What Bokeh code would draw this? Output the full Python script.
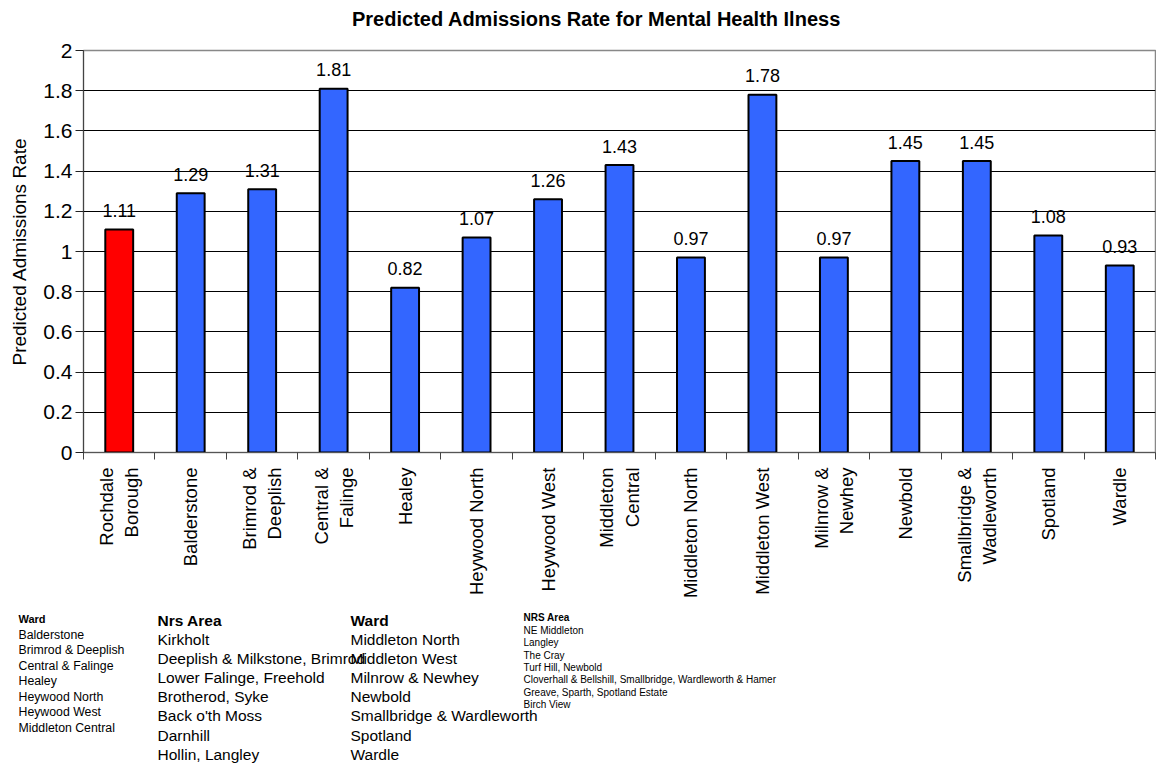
import math
from bokeh.plotting import figure
from bokeh.layouts import column
from bokeh.models import ColumnDataSource, FixedTicker, Range1d
from bokeh.core.properties import value
from bokeh.embed import file_html
from bokeh.resources import INLINE

# ---------------- data ----------------
categories = ["Rochdale\nBorough", "Balderstone", "Brimrod &\nDeeplish", "Central &\nFalinge",
              "Healey", "Heywood North", "Heywood West", "Middleton\nCentral", "Middleton North",
              "Middleton West", "Milnrow &\nNewhey", "Newbold", "Smallbridge &\nWadleworth",
              "Spotland", "Wardle"]
rates = [1.11, 1.29, 1.31, 1.81, 0.82, 1.07, 1.26, 1.43, 0.97, 1.78, 0.97, 1.45, 1.45, 1.08, 0.93]
is_borough = [True] + [False] * 14
y_ticks = [0.0, 0.2, 0.4, 0.6, 0.8, 1.0, 1.2, 1.4, 1.6, 1.8, 2.0]
y_tick_labels = ["0", "0.2", "0.4", "0.6", "0.8", "1", "1.2", "1.4", "1.6", "1.8", "2"]

title_text = "Predicted Admissions Rate for Mental Health Ilness"
y_label = "Predicted Admissions Rate"

ward_header_1 = "Ward"
ward_list_1 = ["Balderstone", "Brimrod & Deeplish", "Central & Falinge", "Healey",
               "Heywood North", "Heywood West", "Middleton Central"]
nrs_header_1 = "Nrs Area"
nrs_list_1 = ["Kirkholt", "Deeplish & Milkstone, Brimrod", "Lower Falinge, Freehold",
              "Brotherod, Syke", "Back o'th Moss", "Darnhill", "Hollin, Langley"]
ward_header_2 = "Ward"
ward_list_2 = ["Middleton North", "Middleton West", "Milnrow & Newhey", "Newbold",
               "Smallbridge & Wardleworth", "Spotland", "Wardle"]
nrs_header_2 = "NRS Area"
nrs_list_2 = ["NE Middleton", "Langley", "The Cray", "Turf Hill, Newbold",
              "Cloverhall & Bellshill, Smallbridge, Wardleworth & Hamer",
              "Greave, Sparth, Spotland Estate", "Birch View"]

FONT = value("Liberation Sans")
RED = "#FF0000"
BLUE = "#3366FF"

W = 1156
H0 = 36     # title strip
H1 = 568    # chart
H2 = 163    # notes


def strip(height, top):
    f = figure(width=W, height=height, x_range=Range1d(0, W), y_range=Range1d(top + height, top),
               output_backend="svg", toolbar_location=None,
               x_axis_location=None, y_axis_location=None,
               min_border_left=0, min_border_right=0, min_border_top=0, min_border_bottom=0)
    f.frame_align = False
    f.grid.visible = False
    f.outline_line_color = None
    return f


# ---------------- title strip ----------------
p0 = strip(H0, 0)
p0.text(x=[596], y=[18], text=[title_text], text_font=FONT, text_font_size="20px",
        text_font_style="bold", text_align="center", text_baseline="middle",
        text_color="black")

# ---------------- main chart ----------------
n = len(categories)
centers = [i + 0.5 for i in range(n)]
boundaries = [float(i) for i in range(n + 1)]

src = ColumnDataSource(dict(
    x=centers,
    top=rates,
    color=[RED if b else BLUE for b in is_borough],
    label=[f"{v:.2f}" for v in rates],
))

p = figure(width=W, height=H1, x_range=Range1d(0, n), y_range=Range1d(0, 2),
           output_backend="svg", toolbar_location=None,
           min_border_left=83, min_border_right=1, min_border_top=14, min_border_bottom=152)
p.frame_align = False

p.vbar(x="x", top="top", width=0.39, bottom=0, fill_color="color",
       line_color="black", line_width=2, source=src)
p.text(x="x", y="top", text="label", source=src, text_font=FONT,
       text_font_size="18px", text_align="center", text_baseline="alphabetic",
       y_offset=-19, text_color="black")

# x axis
xa = p.xaxis[0]
xa.ticker = FixedTicker(ticks=centers, minor_ticks=boundaries)
xa.major_label_overrides = {c: lab for c, lab in zip(centers, categories)}
xa.major_label_orientation = math.pi / 2
xa.major_label_text_font = "Liberation Sans"
xa.major_label_text_font_size = "18.5px"
xa.major_label_text_color = "black"
xa.major_tick_out = 0
xa.major_tick_in = 0
xa.minor_tick_out = 7
xa.minor_tick_in = 0
xa.minor_tick_line_color = "#444444"
xa.axis_line_color = "#555555"
xa.major_label_standoff = 8

# y axis
ya = p.yaxis[0]
ya.ticker = FixedTicker(ticks=y_ticks)
ya.major_label_overrides = {t: lab for t, lab in zip(y_ticks, y_tick_labels)}
ya.major_label_text_font = "Liberation Sans"
ya.major_label_text_font_size = "21px"
ya.major_label_text_color = "black"
ya.major_tick_out = 8
ya.major_tick_in = 0
ya.major_tick_line_color = "#222222"
ya.minor_tick_line_color = None
ya.axis_line_color = "#444444"
ya.major_label_standoff = 3
ya.axis_label = y_label
ya.axis_label_text_font = "Liberation Sans"
ya.axis_label_text_font_size = "19px"
ya.axis_label_text_font_style = "normal"
ya.axis_label_text_color = "black"
ya.axis_label_standoff = 10

p.xgrid.visible = False
p.ygrid.ticker = FixedTicker(ticks=y_ticks[1:-1])
p.ygrid.grid_line_color = "black"
p.ygrid.grid_line_width = 1
p.outline_line_color = "#888888"
p.outline_line_width = 1.5

# ---------------- notes below ----------------
p2 = strip(H2, H0 + H1)


def note_column(x0, header, items, head_y, first_y, step, size, head_size):
    p2.text(x=[x0], y=[head_y], text=[header], text_font=FONT, text_font_size=head_size,
            text_font_style="bold", text_baseline="middle", text_align="left",
            text_color="black")
    p2.text(x=[x0] * len(items), y=[first_y + i * step for i in range(len(items))],
            text=items, text_font=FONT, text_font_size=size, text_baseline="middle",
            text_align="left", text_color="black")


note_column(18, ward_header_1, ward_list_1, 618, 634, 15.5, "12.3px", "11px")
note_column(157, nrs_header_1, nrs_list_1, 620, 639, 19.1, "15.5px", "15.5px")
note_column(350, ward_header_2, ward_list_2, 620, 639, 19.1, "15.5px", "15.5px")
note_column(523, nrs_header_2, nrs_list_2, 617, 630, 12.3, "10px", "10px")

layout = column(p0, p, p2, spacing=0)
open("out.html", "w").write(file_html(layout, INLINE))
